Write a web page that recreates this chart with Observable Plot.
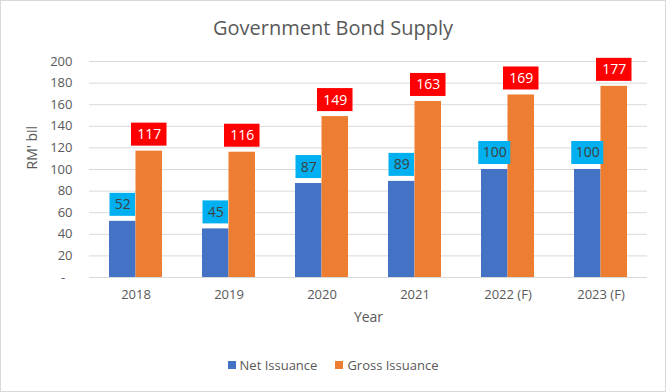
<!DOCTYPE html>
<html><head><meta charset="utf-8">
<script src="https://cdn.jsdelivr.net/npm/d3@7"></script>
<script src="https://cdn.jsdelivr.net/npm/@observablehq/plot@0.6"></script>
<style>
body{margin:0;background:#fff;}
#wrap{position:relative;width:666px;height:392px;overflow:hidden;font-family:"Open Sans",sans-serif;color:#595959;background:#fff;}
#frame{position:absolute;left:0;top:0;width:664px;height:390px;border:1px solid #d9d9d9;pointer-events:none;}
#title{position:absolute;left:0;top:12px;width:666px;text-align:center;font-size:20px;line-height:32px;}
#legend{position:absolute;left:0;top:355px;width:666px;display:flex;justify-content:center;align-items:center;font-size:13px;line-height:20px;}
.item{display:flex;align-items:center;margin:0 9px;}
.sw{width:8px;height:8px;margin-right:4px;}
#chart svg{position:absolute;left:0;top:0;}
</style></head>
<body>
<div id="wrap">
  <div id="chart"></div>
  <div id="title">Government Bond Supply</div>
  <div id="legend"></div>
  <div id="frame"></div>
</div>
<script>
const years = ["2018","2019","2020","2021","2022 (F)","2023 (F)"];
const netIssuance = [52,45,87,89,100,100];
const grossIssuance = [117,116,149,163,169,177];
const seriesNames = ["Net Issuance","Gross Issuance"];
const seriesColors = ["#4472c4","#ed7d31"];
const labelBoxColors = ["#00b0f0","#ff0000"];
const yTicks = [0,20,40,60,80,100,120,140,160,180,200];

const net = years.map((y,i)=>({year:y, value:netIssuance[i]}));
const gross = years.map((y,i)=>({year:y, value:grossIssuance[i]}));
const half = 26.5;

const chart = Plot.plot({
  width: 666, height: 392,
  marginTop: 61, marginBottom: 115, marginLeft: 89, marginRight: 19,
  style: {fontFamily: '"Open Sans", sans-serif', color: "#595959", background: "transparent"},
  x: {domain: years, paddingInner: 0.43, paddingOuter: 0.215},
  y: {domain: [0,200]},
  marks: [
    Plot.ruleY(yTicks, {stroke:"#d9d9d9", strokeWidth:1}),
    Plot.axisY({ticks: yTicks, tickSize:0, tickPadding:17, fontSize:13, label:null,
      tickFormat: d => d === 0 ? "-\u2007" : String(d)}),
    Plot.axisX({tickSize:0, tickPadding:12, fontSize:13, label:null}),
    Plot.barY(net, {x:"year", y:"value", fill:seriesColors[0], insetRight:half}),
    Plot.barY(gross, {x:"year", y:"value", fill:seriesColors[1], insetLeft:half}),
    Plot.barY(net.filter(d=>d.value<100), {x:"year", y1:"value", y2:"value", fill:labelBoxColors[0],
      insetLeft:0.5, insetRight:half+0.5, insetTop:-28, insetBottom:5}),
    Plot.barY(net.filter(d=>d.value>=100), {x:"year", y1:"value", y2:"value", fill:labelBoxColors[0],
      insetLeft:-2.75, insetRight:half-2.75, insetTop:-28, insetBottom:5}),
    Plot.barY(gross, {x:"year", y1:"value", y2:"value", fill:labelBoxColors[1],
      insetLeft:half-4.5, insetRight:-4.5, insetTop:-28, insetBottom:5}),
    Plot.text(net, {x:"year", y:"value", text:d=>String(d.value), dx:-half/2, dy:-16.5, fill:"#404040", fontSize:14}),
    Plot.text(gross, {x:"year", y:"value", text:d=>String(d.value), dx:half/2, dy:-16.5, fill:"#ffffff", fontSize:14}),
    Plot.text(["RM' bil"], {frameAnchor:"left", dx:-57, rotate:-90, fontSize:14, fill:"#595959"}),
    Plot.text(["Year"], {frameAnchor:"bottom", dy:44, fontSize:14, fill:"#595959"})
  ]
});
document.getElementById("chart").appendChild(chart);

const legend = document.getElementById("legend");
seriesNames.forEach((n,i)=>{
  const it = document.createElement("div"); it.className="item";
  const sw = document.createElement("div"); sw.className="sw"; sw.style.background=seriesColors[i];
  const t = document.createElement("span"); t.textContent=n;
  it.appendChild(sw); it.appendChild(t); legend.appendChild(it);
});
</script>
</body></html>
